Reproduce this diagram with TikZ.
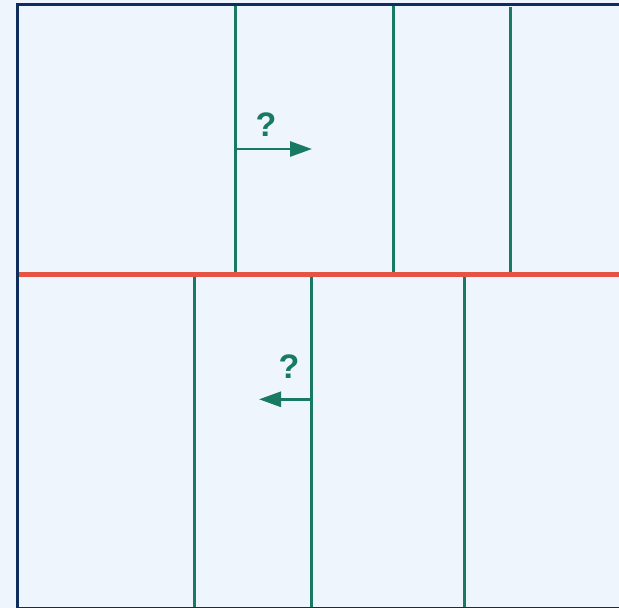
\documentclass[tikz,border=0pt]{standalone}
\usepackage{fontspec}
\setmainfont{Liberation Sans}
\usetikzlibrary{arrows.meta}
\definecolor{bgc}{HTML}{EFF5FD}
\definecolor{navy}{HTML}{0D2E5C}
\definecolor{grn}{HTML}{187A63}
\definecolor{redc}{HTML}{E65343}
\tikzset{
  wall/.style={draw=grn, line width=3pt},
  cut/.style={draw=redc, line width=5pt},
  frame/.style={draw=navy, line width=3pt},
  move/.style={draw=grn, line width=2.8pt, -{Triangle[length=22pt,width=15pt]}},
  qm/.style={text=grn, font=\bfseries\fontsize{34}{34}\selectfont, inner sep=0pt}
}
\begin{document}
\begin{tikzpicture}[x=1pt,y=-1pt]
\useasboundingbox (0,0) rectangle (619,608);
\fill[bgc] (0,0) rectangle (619,608);
\begin{scope}
\clip (0,0) rectangle (619,608);
% top walls
\coordinate (t1a) at (235,4); \coordinate (t1b) at (235,272);
\coordinate (t2a) at (393,5); \coordinate (t2b) at (393,272);
\coordinate (t3a) at (510,7); \coordinate (t3b) at (510,273);
\draw[wall] (t1a) -- (t1b);
\draw[wall] (t2a) -- (t2b);
\draw[wall] (t3a) -- (t3b);
% bottom walls
\coordinate (b1a) at (194,277); \coordinate (b1b) at (194,610);
\coordinate (b2a) at (311,276); \coordinate (b2b) at (311,610);
\coordinate (b3a) at (464,277); \coordinate (b3b) at (464,610);
\draw[wall] (b1a) -- (b1b);
\draw[wall] (b2a) -- (b2b);
\draw[wall] (b3a) -- (b3b);
% red line
\coordinate (ra) at (18,274.5); \coordinate (rb) at (625,274.5);
\draw[cut] (ra) -- (rb);
% frame
\draw[frame] (625,4.3) -- (17.5,4.3) -- (17.5,608.5) -- (625,608.5);
% arrows
\coordinate (a1s) at (235,149); \coordinate (a1e) at (312,149);
\draw[move] (a1s) -- (a1e);
\node[qm] (q1) at (266,124.5) {?};
\coordinate (a2s) at (311,399.3); \coordinate (a2e) at (259,399.3);
\draw[move] (a2s) -- (a2e);
\node[qm] (q2) at (289,367) {?};
\end{scope}
\end{tikzpicture}
\end{document}
